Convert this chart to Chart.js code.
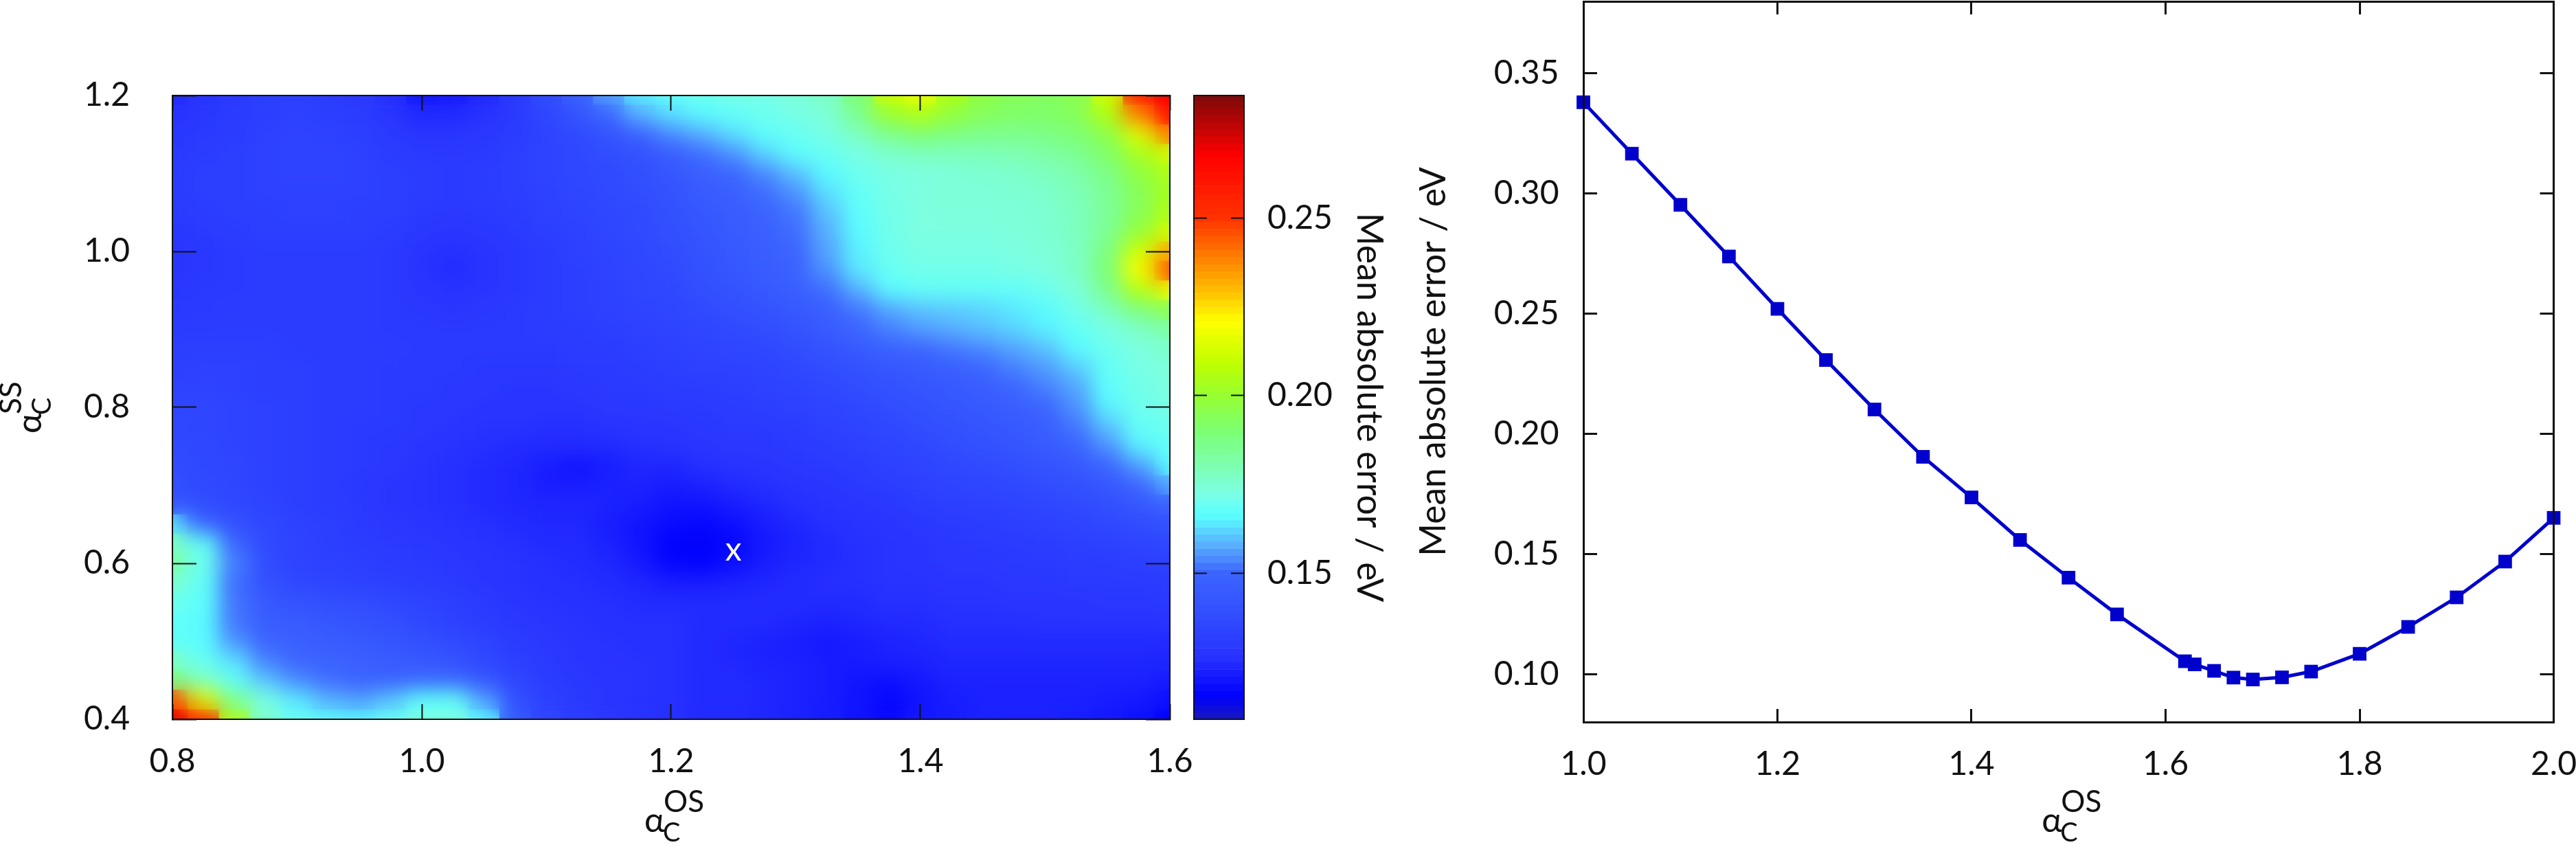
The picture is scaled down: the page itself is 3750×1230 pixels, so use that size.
<!DOCTYPE html>
<html>
<head>
<meta charset="utf-8">
<title>Mean absolute error maps</title>
<script src="https://cdn.jsdelivr.net/npm/chart.js@4"></script>
<style>
  html, body { margin: 0; padding: 0; background: #fff; }
  canvas { position: absolute; top: 0; }
</style>
</head>
<body>
<canvas id="heatChart" width="1743" height="1230" style="left:0"></canvas>
<canvas id="barChart" width="300" height="1230" style="left:1730px"></canvas>
<canvas id="lineChart" width="1710" height="1230" style="left:2040px"></canvas>
<script>
const heatX = [0.8, 0.825, 0.85, 0.875, 0.9, 0.925, 0.95, 0.975, 1.0, 1.025, 1.05,
  1.075, 1.1, 1.125, 1.15, 1.175, 1.2, 1.225, 1.25, 1.275, 1.3, 1.325,
  1.35, 1.375, 1.4, 1.425, 1.45, 1.475, 1.5, 1.525, 1.55, 1.575, 1.6];
const heatY = [1.2, 1.175, 1.15, 1.125, 1.1, 1.075, 1.05, 1.025, 1.0, 0.975, 0.95,
  0.925, 0.9, 0.875, 0.85, 0.825, 0.8, 0.775, 0.75, 0.725, 0.7, 0.675,
  0.65, 0.625, 0.6, 0.575, 0.55, 0.525, 0.5, 0.475, 0.45, 0.425, 0.4];
// mean absolute error in meV, one row per heatY
const heatMeV = [
  [125,127,130,132,132,131,130,126,120,121,124, 130,138,148,157,165,168,170,172,172,174,177, 190,212,218,205,197,194,193,195,212,258,268],
  [127,129,131,132,133,132,131,128,125,125,127, 130,135,142,150,158,163,166,168,170,172,175, 186,200,205,198,194,192,192,194,206,238,262],
  [129,130,131,133,134,133,132,130,128,128,129, 131,134,137,142,148,154,158,163,167,169,172, 178,186,190,188,186,186,187,190,196,215,238],
  [130,131,132,133,134,134,133,131,130,130,130, 132,134,136,138,141,146,151,155,162,167,169, 172,176,178,178,179,180,182,185,192,203,212],
  [131,132,132,133,134,134,133,132,131,130,131, 132,134,136,137,139,143,147,150,154,160,166, 170,172,173,174,175,176,178,181,187,197,205],
  [131,132,132,133,133,133,133,132,131,130,131, 132,133,135,137,138,141,145,148,151,155,163, 168,172,173,174,174,175,176,179,185,194,203],
  [130,131,132,132,133,133,132,132,130,130,130, 131,133,134,136,137,140,143,146,149,152,160, 167,171,173,174,174,174,175,178,184,194,205],
  [129,130,131,132,132,132,132,131,129,128,129, 130,132,133,135,137,139,142,145,148,151,158, 166,171,173,173,173,174,175,178,185,198,212],
  [128,129,130,131,131,131,131,130,127,126,127, 129,131,133,134,136,138,141,144,147,150,157, 165,170,172,172,172,173,174,177,188,212,232],
  [128,129,130,131,131,131,131,130,127,125,127, 129,131,132,134,135,137,140,143,146,149,155, 164,169,171,171,171,172,173,177,190,220,245],
  [129,130,130,131,131,131,131,130,128,127,128, 129,131,132,133,135,136,139,141,144,147,151, 158,166,168,168,168,168,170,174,186,205,218],
  [130,130,131,131,131,131,131,130,129,128,129, 130,131,132,133,134,135,137,139,141,144,147, 152,157,160,161,162,164,166,171,178,188,195],
  [131,131,131,131,131,131,131,130,130,130,130, 130,131,131,132,133,134,135,137,138,141,146, 150,153,156,158,160,162,165,168,172,177,182],
  [132,132,132,132,131,131,131,131,130,130,130, 130,130,131,131,132,133,134,135,136,138,141, 145,148,150,152,154,157,160,166,170,173,176],
  [133,133,133,132,132,131,131,130,130,130,129, 129,129,130,130,131,132,133,133,134,136,138, 140,143,145,147,150,153,156,161,168,172,174],
  [134,134,133,132,132,131,131,130,130,129,129, 128,128,129,130,130,131,131,132,133,134,136, 138,140,142,144,147,150,153,157,167,171,173],
  [135,135,134,133,132,131,131,130,129,129,128, 128,128,128,129,129,130,130,131,132,133,134, 136,138,140,142,144,147,150,155,165,170,172],
  [136,135,134,133,132,131,130,130,129,128,127, 127,126,126,127,128,128,129,130,130,131,133, 134,136,138,140,142,144,147,152,160,168,170],
  [137,136,134,133,132,131,130,129,128,127,126, 125,125,125,125,126,127,128,129,129,130,131, 133,134,136,138,140,142,145,149,155,165,168],
  [138,136,135,133,132,131,130,129,127,126,125, 124,122,120,122,124,124,126,127,128,129,130, 131,133,134,136,137,139,141,144,149,156,166],
  [139,137,135,133,132,131,129,128,127,126,125, 124,122,122,123,123,122,123,125,126,127,128, 130,131,133,134,135,136,138,140,144,150,157],
  [141,138,136,134,132,131,130,128,127,126,125, 124,124,124,123,122,120,120,122,124,126,127, 128,129,131,132,133,134,135,137,139,143,148],
  [163,150,140,136,133,132,130,129,128,127,126, 125,124,124,122,120,118,117,119,122,124,126, 127,128,129,130,131,132,133,134,136,138,141],
  [178,168,150,137,134,132,131,130,129,128,127, 126,125,125,123,120,116,115,117,121,123,125, 126,127,128,129,130,130,131,132,133,134,136],
  [182,170,153,138,134,133,132,131,130,129,128, 127,126,125,124,121,117,116,119,122,124,125, 126,127,128,129,129,130,130,131,131,132,133],
  [176,168,151,140,136,134,133,132,131,130,128, 127,126,126,125,124,122,122,123,124,125,126, 126,127,127,128,128,129,129,130,130,130,131],
  [170,167,152,144,141,139,138,136,134,132,130, 128,127,126,126,125,125,125,125,125,125,125, 125,126,126,127,127,128,128,128,129,129,130],
  [168,166,152,146,145,143,141,139,136,133,131, 129,128,127,126,126,126,125,125,125,124,123, 124,125,125,126,126,126,127,127,127,127,128],
  [168,166,155,150,148,146,144,142,139,137,134, 131,129,128,127,126,126,125,124,123,122,121, 122,123,124,125,125,125,125,125,125,125,125],
  [177,169,163,153,150,149,148,146,144,141,136, 132,130,128,127,127,126,125,124,123,123,122, 122,123,123,124,124,124,124,124,124,124,124],
  [188,177,168,160,154,151,149,148,150,150,143, 135,131,129,128,127,126,125,125,124,123,122, 120,119,121,123,123,123,123,123,123,123,122],
  [245,215,185,172,164,158,156,160,167,168,156, 140,133,130,128,127,126,125,125,124,123,122, 120,117,120,122,123,123,123,123,122,121,119],
  [270,255,205,176,169,167,166,169,173,173,166, 145,135,131,129,127,126,125,125,124,123,122, 120,118,121,122,123,123,123,122,121,119,115]
];
const heatXTicks = [0.8, 1.0, 1.2, 1.4, 1.6];
const heatYTicks = [0.4, 0.6, 0.8, 1.0, 1.2];
const minX = [1.25];
const minY = [0.615];

// palette
const paletteV = [0.109, 0.1156, 0.1265, 0.1394, 0.15, 0.1587, 0.1664, 0.173, 0.1814, 0.191, 0.1998, 0.2089, 0.221, 0.2295, 0.24, 0.25, 0.2674, 0.2844];
const paletteR = [25, 0, 40, 50, 60, 90, 90, 125, 125, 125, 150, 190, 255, 255, 255, 255, 255, 125];
const paletteG = [25, 0, 50, 80, 100, 180, 255, 255, 255, 255, 255, 255, 255, 190, 120, 50, 0, 10];
const paletteB = [190, 255, 255, 255, 255, 255, 255, 225, 170, 110, 50, 0, 0, 0, 0, 0, 0, 10];

const barLevels = [0.110, 0.112, 0.114, 0.116, 0.118, 0.120, 0.122, 0.124, 0.126, 0.128, 0.130, 0.132, 0.134, 0.136, 0.138,
  0.140, 0.142, 0.144, 0.146, 0.148, 0.150, 0.152, 0.154, 0.156, 0.158, 0.160, 0.162, 0.164, 0.166, 0.168,
  0.170, 0.172, 0.174, 0.176, 0.178, 0.180, 0.182, 0.184, 0.186, 0.188, 0.190, 0.192, 0.194, 0.196, 0.198,
  0.200, 0.202, 0.204, 0.206, 0.208, 0.210, 0.212, 0.214, 0.216, 0.218, 0.220, 0.222, 0.224, 0.226, 0.228,
  0.230, 0.232, 0.234, 0.236, 0.238, 0.240, 0.242, 0.244, 0.246, 0.248, 0.250, 0.252, 0.254, 0.256, 0.258,
  0.260, 0.262, 0.264, 0.266, 0.268, 0.270, 0.272, 0.274, 0.276, 0.278, 0.280, 0.282, 0.284];
const barTicks = [0.15, 0.20, 0.25];

const lineX = [1.0, 1.05, 1.1, 1.15, 1.2, 1.25, 1.3, 1.35, 1.4, 1.45, 1.5, 1.55, 1.62, 1.63, 1.65, 1.67, 1.69, 1.72, 1.75, 1.8, 1.85, 1.9, 1.95, 2.0];
const lineY = [0.338, 0.3166, 0.2953, 0.2738, 0.252, 0.2307, 0.2101, 0.1904, 0.1735, 0.1558, 0.1401, 0.1248, 0.1053, 0.104, 0.1013, 0.0985, 0.0977, 0.0986, 0.101, 0.1084, 0.1196, 0.1319, 0.1468, 0.165];
const lineXTicks = [1.0, 1.2, 1.4, 1.6, 1.8, 2.0];
const lineYTicks = [0.10, 0.15, 0.20, 0.25, 0.30, 0.35];

const errorTitle = "Mean absolute error / eV";
const fontFamily = "Lato, 'Open Sans', sans-serif";
const tickFont = { family: fontFamily, size: 48 };
const titleFont = { family: fontFamily, size: 51.5 };
const black = "#111";

function paletteColor(v) {
  let i = 0;
  while (i < paletteV.length - 2 && v > paletteV[i + 1]) i++;
  let t = (v - paletteV[i]) / (paletteV[i + 1] - paletteV[i]);
  t = Math.min(1, Math.max(0, t));
  let r = paletteR[i] + (paletteR[i + 1] - paletteR[i]) * t;
  let g = paletteG[i] + (paletteG[i + 1] - paletteG[i]) * t;
  let b = paletteB[i] + (paletteB[i + 1] - paletteB[i]) * t;
  return "rgb(" + Math.round(r) + "," + Math.round(g) + "," + Math.round(b) + ")";
}

// axis with inward ticks and a forced box size, so the plot areas land where they should
function makeAxis(o) {
  return {
    type: o.type || "linear",
    position: o.position,
    axis: o.axis,
    min: o.min,
    max: o.max,
    offset: o.offset || false,
    afterBuildTicks: (s) => {
      if (o.ticks) s.ticks = o.ticks.map((v) => ({ value: v }));
    },
    afterFit: (s) => {
      if (s.isHorizontal()) s.height = o.size;
      else s.width = o.size;
      s.paddingLeft = 0;
      s.paddingRight = 0;
      s.paddingTop = 0;
      s.paddingBottom = 0;
    },
    grid: {
      display: true,
      drawOnChartArea: false,
      drawTicks: !!o.tickLength,
      tickLength: -(o.tickLength || 0),
      tickColor: black,
      tickWidth: o.lineWidth,
      offset: false,
      z: 1,
    },
    border: { display: true, color: black, width: o.lineWidth, z: 1 },
    ticks: {
      display: !!o.digits,
      autoSkip: false,
      maxRotation: 0,
      minRotation: 0,
      padding: o.padding || 0,
      color: black,
      font: tickFont,
      callback: (v) => (o.digits ? Number(v).toFixed(o.digits) : ""),
    },
    title: o.title
      ? { display: true, text: o.title, color: black, font: titleFont, padding: o.titlePadding }
      : { display: false },
  };
}

// draws alpha with subscript C and a superscript, optionally turned for a y axis
function drawAlphaTitle(ctx, cx, cy, sup, turned) {
  ctx.save();
  ctx.translate(cx, cy);
  if (turned) ctx.rotate(-Math.PI / 2);
  ctx.fillStyle = black;
  ctx.textBaseline = "alphabetic";
  ctx.textAlign = "left";
  ctx.font = "50px " + fontFamily;
  ctx.fillText("α", -39, 0);
  ctx.font = "38px " + fontFamily;
  ctx.fillText("C", -12, 14);
  ctx.font = "44px " + fontFamily;
  ctx.fillText(sup, -11, -29);
  ctx.restore();
}

const heatPoints = [];
const heatColors = [];
heatY.forEach((y, r) => {
  heatX.forEach((x, c) => {
    let v = heatMeV[r][c] / 1000;
    heatPoints.push({ x: x, y: [y - 0.0125, y + 0.0125] });
    heatColors.push(paletteColor(v));
  });
});

const heatPlugin = {
  id: "heatPlugin",
  // smooth the cells the way the interpolated map looks
  afterDatasetDraw(chart) {
    const a = chart.chartArea;
    const ctx = chart.ctx;
    ctx.save();
    ctx.beginPath();
    ctx.rect(a.left, a.top, a.width, a.height);
    ctx.clip();
    ctx.filter = "blur(15px)";
    ctx.drawImage(chart.canvas, a.left, a.top, a.width, a.height, a.left, a.top, a.width, a.height);
    ctx.restore();
  },
  afterDatasetsDraw(chart) {
    const ctx = chart.ctx;
    ctx.save();
    ctx.fillStyle = "#fff";
    ctx.font = "48px " + fontFamily;
    ctx.textAlign = "center";
    ctx.textBaseline = "alphabetic";
    ctx.fillText("x", chart.scales.x.getPixelForValue(minX[0]), chart.scales.y.getPixelForValue(minY[0]) + 13);
    ctx.restore();
  },
  afterDraw(chart) {
    const a = chart.chartArea;
    drawAlphaTitle(chart.ctx, (a.left + a.right) / 2, 1211, "OS", false);
    drawAlphaTitle(chart.ctx, 60, 592, "SS", true);
  },
};

new Chart(document.getElementById("heatChart"), {
  type: "bar",
  data: {
    datasets: [
      {
        data: heatPoints,
        backgroundColor: heatColors,
        borderWidth: 0,
        barPercentage: 1,
        categoryPercentage: 1,
        grouped: false,
        xAxisID: "x",
        yAxisID: "y",
      },
    ],
  },
  options: {
    responsive: false,
    animation: false,
    events: [],
    layout: { padding: 0, autoPadding: false },
    plugins: { legend: { display: false }, tooltip: { enabled: false } },
    scales: {
      x: makeAxis({ position: "bottom", min: 0.8, max: 1.6, ticks: heatXTicks, size: 183, tickLength: 22, lineWidth: 2, digits: 1, padding: 55 }),
      y: makeAxis({ position: "left", min: 0.4, max: 1.2, ticks: heatYTicks, size: 251, tickLength: 35, lineWidth: 2, digits: 1, padding: 97 }),
      x2: makeAxis({ axis: "x", position: "top", min: 0.8, max: 1.6, ticks: heatXTicks, size: 139, tickLength: 22, lineWidth: 2 }),
      y2: makeAxis({ axis: "y", position: "right", min: 0.4, max: 1.2, ticks: heatYTicks, size: 40, tickLength: 35, lineWidth: 2 }),
    },
  },
  plugins: [heatPlugin],
});

new Chart(document.getElementById("barChart"), {
  type: "bar",
  data: {
    labels: ["bar"],
    datasets: [
      {
        data: barLevels.map((v) => ({ x: "bar", y: [v - 0.001, v + 0.001] })),
        backgroundColor: barLevels.map((v) => paletteColor(v)),
        borderWidth: 0,
        barPercentage: 1,
        categoryPercentage: 1,
        grouped: false,
        xAxisID: "x",
        yAxisID: "y",
      },
    ],
  },
  options: {
    responsive: false,
    animation: false,
    events: [],
    layout: { padding: 0, autoPadding: false },
    plugins: { legend: { display: false }, tooltip: { enabled: false } },
    scales: {
      x: makeAxis({ type: "category", position: "bottom", size: 183, lineWidth: 2, offset: true }),
      x2: makeAxis({ type: "category", axis: "x", position: "top", size: 139, lineWidth: 2, offset: true }),
      y: makeAxis({ position: "right", min: 0.109, max: 0.2844, ticks: barTicks, size: 219, tickLength: 19, lineWidth: 2, digits: 2, padding: 53,
        title: errorTitle, titlePadding: { top: 6, bottom: 0 } }),
      y2: makeAxis({ axis: "y", position: "left", min: 0.109, max: 0.2844, ticks: barTicks, size: 8, tickLength: 19, lineWidth: 2 }),
    },
  },
});

new Chart(document.getElementById("lineChart"), {
  type: "line",
  data: {
    datasets: [
      {
        data: lineX.map((x, i) => ({ x: x, y: lineY[i] })),
        borderColor: "#0000cd",
        backgroundColor: "#0000cd",
        borderWidth: 5,
        pointStyle: "rect",
        pointRadius: 14,
        pointBorderWidth: 0,
        tension: 0,
        fill: false,
        clip: false,
        xAxisID: "x",
        yAxisID: "y",
      },
    ],
  },
  options: {
    responsive: false,
    animation: false,
    events: [],
    layout: { padding: 0, autoPadding: false },
    plugins: { legend: { display: false }, tooltip: { enabled: false } },
    scales: {
      x: makeAxis({ position: "bottom", min: 1.0, max: 2.0, ticks: lineXTicks, size: 179, tickLength: 19, lineWidth: 3, digits: 1, padding: 52 }),
      y: makeAxis({ position: "left", min: 0.08, max: 0.38, ticks: lineYTicks, size: 265, tickLength: 20, lineWidth: 3, digits: 2, padding: 55.5,
        title: errorTitle, titlePadding: { top: 16, bottom: 0 } }),
      x2: makeAxis({ axis: "x", position: "top", min: 1.0, max: 2.0, ticks: lineXTicks, size: 2, tickLength: 19, lineWidth: 3 }),
      y2: makeAxis({ axis: "y", position: "right", min: 0.08, max: 0.38, ticks: lineYTicks, size: 32.5, tickLength: 20, lineWidth: 3 }),
    },
  },
  plugins: [
    {
      id: "lineTitle",
      afterDraw(chart) {
        const a = chart.chartArea;
        drawAlphaTitle(chart.ctx, (a.left + a.right) / 2, 1211, "OS", false);
      },
    },
  ],
});
</script>
</body>
</html>
